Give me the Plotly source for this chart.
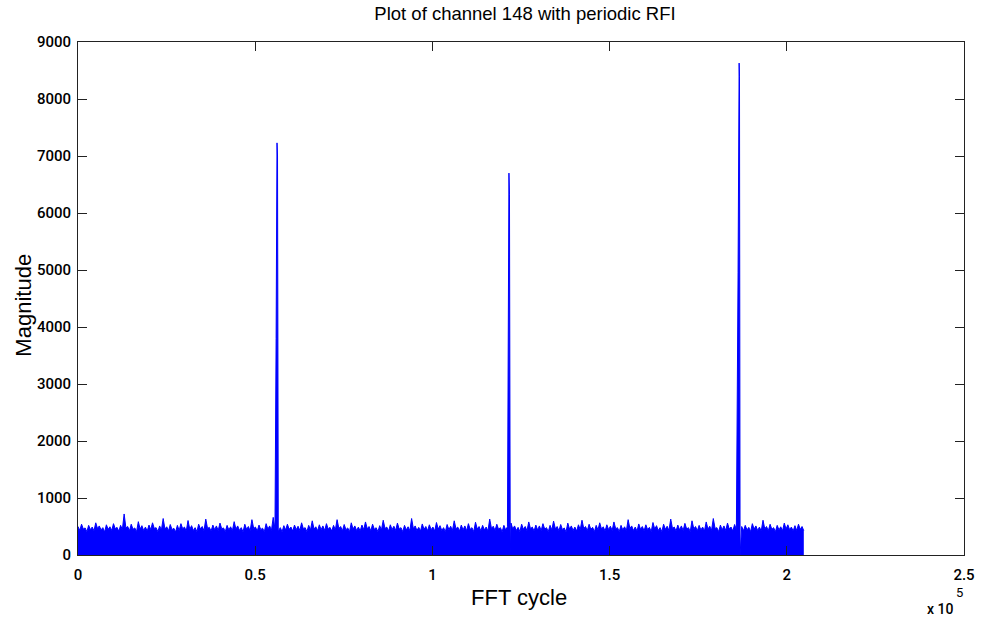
import numpy as np
import plotly.graph_objects as go

# ---------------- data ----------------
x_tick_vals = [0, 50000, 100000, 150000, 200000, 250000]
x_tick_text = ["0", "0.5", "1", "1.5", "2", "2.5"]
y_tick_vals = [0, 1000, 2000, 3000, 4000, 5000, 6000, 7000, 8000, 9000]

# noise band: local maxima (teeth) and the in-between levels, one pair per ~1000 FFT cycles
noise_peak = [
    500, 540, 475, 520, 490, 565, 510, 480, 530, 495,
    550, 485, 520, 720, 500, 540, 475, 585, 515, 490,
    525, 565, 480, 510, 640, 495, 535, 470, 520, 550,
    490, 605, 515, 480, 540, 500, 630, 485, 525, 510,
    560, 475, 520, 495, 585, 510, 480, 540, 500, 620,
    490, 525, 470, 550, 510, 660, 495, 480, 515, 540,
    490, 525, 505, 565, 480, 520, 600, 495, 530, 510,
    550, 485, 520, 620, 500, 535, 475, 565, 510, 490,
    525, 580, 500, 540, 480, 515, 610, 490, 530, 505,
    560, 480, 520, 495, 640, 510, 485, 545, 500, 530,
    490, 570, 515, 480, 535, 505, 600, 490, 525, 510,
    550, 480, 575, 500, 520, 490, 630, 505, 540, 480,
    520, 495, 560, 510, 485, 540, 500, 580, 490, 525,
    510, 550, 480, 520, 595, 500, 535, 475, 560, 510,
    490, 530, 610, 500, 540, 485, 520, 565, 495, 530,
    505, 580, 480, 520, 495, 620, 510, 490, 545, 500,
    530, 485, 570, 515, 480, 540, 505, 630, 490, 525,
    510, 555, 480, 600, 500, 520, 490, 580, 505, 640,
    480, 525, 510, 560, 490, 535, 620, 500, 520, 485,
    550, 510, 490, 610, 500, 540, 480, 520, 495, 560,
    530, 490, 515, 540, 500,
]
noise_floor = [
    430, 455, 410, 445, 425, 465, 440, 405, 450, 430,
    460, 415, 445, 475, 425, 450, 410, 455, 430, 420,
    445, 465, 410, 440, 455, 425, 445, 405, 430, 460,
    420, 450, 430, 410, 455, 425, 465, 420, 445, 430,
    460, 410, 440, 425, 455, 430, 405, 450, 425, 465,
    420, 445, 410, 455, 430, 460, 425, 410, 440, 450,
    420, 445, 430, 460, 410, 440, 455, 425, 445, 430,
    455, 420, 440, 465, 425, 445, 410, 455, 430, 420,
    445, 460, 425, 450, 410, 440, 465, 420, 445, 430,
    455, 410, 440, 425, 460, 430, 420, 450, 425, 445,
    420, 455, 430, 410, 445, 430, 460, 420, 440, 425,
    450, 410, 455, 425, 440, 420, 465, 430, 450, 410,
    440, 425, 455, 430, 410, 450, 425, 460, 420, 440,
    430, 455, 410, 440, 460, 425, 445, 405, 455, 430,
    420, 445, 465, 425, 450, 410, 440, 455, 420, 445,
    430, 460, 410, 440, 425, 465, 430, 420, 450, 425,
    445, 410, 455, 430, 410, 450, 430, 465, 420, 440,
    430, 455, 410, 460, 425, 440, 420, 455, 430, 465,
    410, 440, 430, 455, 420, 445, 460, 425, 440, 410,
    455, 430, 420, 460, 425, 450, 410, 440, 425, 455,
    445, 420, 430, 450, 425,
]
noise_end_cycle = 204800

# RFI bursts
spike1_cycle = [55900, 56000, 56150, 56300, 56450, 56520]
spike1_mag = [3800, 6980, 7230, 7000, 3800, 0]
spike2_cycle = [121350, 121450, 121600, 121750, 121900, 121970]
spike2_mag = [3300, 6350, 6700, 6330, 3300, 0]
spike3_cycle = [186250, 186350, 186450, 186550, 186650, 186750, 186820]
spike3_mag = [4950, 8070, 8390, 8630, 8400, 4950, 0]

# ---------------- build the series ----------------
n = len(noise_peak)
noise_cycle = np.linspace(0, noise_end_cycle, 2 * n)
noise_mag = np.empty(2 * n)
noise_mag[0::2] = noise_peak
noise_mag[1::2] = noise_floor

keep = np.ones(noise_cycle.size, dtype=bool)
for sc in (spike1_cycle, spike2_cycle, spike3_cycle):
    keep &= ~((noise_cycle >= min(sc)) & (noise_cycle <= max(sc)))

cyc = np.concatenate([noise_cycle[keep], spike1_cycle, spike2_cycle, spike3_cycle])
mag = np.concatenate([noise_mag[keep], spike1_mag, spike2_mag, spike3_mag])
order = np.argsort(cyc, kind="stable")
cyc = cyc[order]
mag = mag[order]

fig = go.Figure()
fig.add_trace(go.Scatter(
    x=cyc, y=mag, mode="lines",
    line=dict(color="#0000FF", width=1),
    fill="tozeroy", fillcolor="#0000FF",
    hoverinfo="skip", showlegend=False,
))

label_font = "Liberation Sans, Arial, sans-serif"
tick_font = "Roboto, Liberation Sans, sans-serif"
axis_common = dict(
    showline=True, linecolor="#222222", linewidth=1, mirror="ticks",
    ticks="inside", ticklen=9, tickcolor="#222222", tickwidth=1,
    showgrid=False, zeroline=False,
    tickfont=dict(family=tick_font, size=15, color="#000000", weight=500),
)

W = 987 - 78 - 13

fig.update_layout(
    width=987, height=620,
    margin=dict(l=78, r=13, t=42, b=65),
    paper_bgcolor="white", plot_bgcolor="white",
    title=dict(
        text="Plot of channel 148 with periodic RFI",
        x=525 / 987, xanchor="center",
        y=1 - 14 / 620, yanchor="middle",
        font=dict(family=label_font, size=18.5, color="#000000"),
    ),
    xaxis=dict(range=[0, 250000], tickvals=x_tick_vals, ticktext=x_tick_text,
               ticklabelstandoff=6, **axis_common),
    yaxis=dict(range=[0, 9000], tickvals=y_tick_vals,
               ticklabelstandoff=3, **axis_common),
    annotations=[
        dict(text="FFT cycle", xref="paper", yref="paper",
             x=(524 - 78) / W, y=-(597 - 555) / 513, xanchor="center", yanchor="middle",
             showarrow=False, font=dict(family=label_font, size=22, color="#000000")),
        dict(text="Magnitude", xref="paper", yref="paper",
             x=-(78 - 22) / W, y=(555 - 305) / 513, xanchor="center", yanchor="middle",
             textangle=-90, showarrow=False,
             font=dict(family=label_font, size=22, color="#000000")),
        dict(text="x 10", xref="paper", yref="paper",
             x=(950 - 78) / W, y=-(609 - 555) / 513, xanchor="center", yanchor="middle",
             showarrow=False, font=dict(family=tick_font, size=14, color="#000000", weight=500)),
        dict(text="5", xref="paper", yref="paper",
             x=(969 - 78) / W, y=-(592 - 555) / 513, xanchor="center", yanchor="middle",
             showarrow=False, font=dict(family=tick_font, size=13, color="#000000")),
    ],
)

fig.write_html("out.html", config={"displayModeBar": False},
               post_script="document.body.style.margin='0px';")
